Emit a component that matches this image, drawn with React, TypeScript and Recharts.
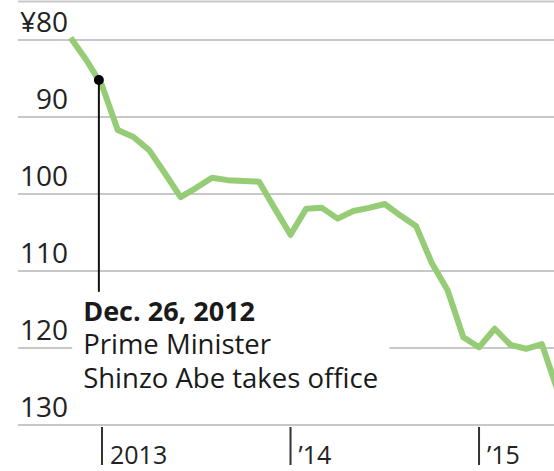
import React from "react";
import {
  LineChart,
  Line,
  XAxis,
  YAxis,
  CartesianGrid,
  ReferenceLine,
  ReferenceDot,
  ReferenceArea,
} from "recharts";

// monthly yen per dollar, Nov 2012 .. Jun 2015
const months = [
  "Nov 2012", "Dec 2012",
  "Jan 2013", "Feb 2013", "Mar 2013", "Apr 2013", "May 2013", "Jun 2013",
  "Jul 2013", "Aug 2013", "Sep 2013", "Oct 2013", "Nov 2013", "Dec 2013",
  "Jan 2014", "Feb 2014", "Mar 2014", "Apr 2014", "May 2014", "Jun 2014",
  "Jul 2014", "Aug 2014", "Sep 2014", "Oct 2014", "Nov 2014", "Dec 2014",
  "Jan 2015", "Feb 2015", "Mar 2015", "Apr 2015", "May 2015", "Jun 2015",
];
const yenPerDollar = [
  79.7, 82.6,
  85.9, 91.7, 92.6, 94.3, 97.3, 100.4, 99.2, 97.9, 98.2, 98.3, 98.4, 101.9,
  105.3, 101.9, 101.8, 103.2, 102.2, 101.8, 101.3, 102.8, 104.2, 109.0, 112.5, 118.6,
  119.9, 117.5, 119.6, 120.1, 119.5, 125.5,
];

const yTicks = [80, 90, 100, 110, 120, 130];
const yLabels = ["¥80", "90", "100", "110", "120", "130"];
const xTicks = [0, 12, 24]; // months since Jan 2013
const xLabels = ["2013", "’14", "’15"];

// Dec. 26, 2012 in months since Jan 2013
const abeDate = -0.2;
const abeRate = 85.2;
const noteLines = ["Dec. 26, 2012", "Prime Minister", "Shinzo Abe takes office"];

const data = months.map((month, i) => ({
  month,
  m: i - 2,
  yen: yenPerDollar[i],
}));

const FONT = "'Open Sans', 'Noto Sans', sans-serif";

const YTick = (props: any) => {
  const { x, y, payload } = props;
  const label = yLabels[yTicks.indexOf(payload.value)];
  return (
    <text
      x={x + 50}
      y={y - 8}
      textAnchor="end"
      fontFamily={FONT}
      fontSize={28}
      fill="#222"
    >
      {label}
    </text>
  );
};

const XTick = (props: any) => {
  const { x, y, payload } = props;
  const label = xLabels[xTicks.indexOf(payload.value)];
  return (
    <g>
      <line x1={x} x2={x} y1={y + 2} y2={y + 40} stroke="#333" strokeWidth={2} />
      <text x={x + 8} y={y + 39} fontFamily={FONT} fontSize={25} fill="#222">
        {label}
      </text>
    </g>
  );
};

const NoteLabel = (props: any) => {
  const { x, y } = props.viewBox;
  return (
    <g fontFamily={FONT} fill="#1a1a1a">
      {noteLines.map((line, i) => (
        <text
          key={line}
          x={x + 11}
          y={y + 25 + i * 33.5}
          fontSize={i === 0 ? 27 : 27.5}
          fontWeight={i === 0 ? 700 : 400}
        >
          {line}
        </text>
      ))}
    </g>
  );
};

export default function App() {
  return (
    <div
      style={{
        position: "absolute",
        left: 0,
        top: 0,
        width: 554,
        height: 471,
        overflow: "hidden",
        background: "#fff",
      }}
    >
      <LineChart
        width={589}
        height={471}
        data={data}
        margin={{ top: 1.5, right: 0, left: 17, bottom: 0 }}
      >
        <CartesianGrid vertical={false} stroke="#c8c8c8" strokeWidth={2} />
        <XAxis
          type="number"
          dataKey="m"
          domain={[-5.348, 31]}
          allowDataOverflow
          ticks={xTicks}
          interval={0}
          axisLine={false}
          tickLine={false}
          tickSize={0}
          tickMargin={0}
          height={46}
          tick={XTick}
        />
        <YAxis
          type="number"
          domain={[75, 130]}
          allowDataOverflow
          reversed
          ticks={yTicks}
          interval={0}
          width={1}
          axisLine={false}
          tickLine={false}
          tickSize={0}
          tickMargin={0}
          tick={YTick}
        />
        <ReferenceArea
          x1={-1.9}
          x2={18.3}
          y1={113.2}
          y2={127.5}
          fill="#fff"
          fillOpacity={1}
          stroke="none"
          label={(p: any) => <NoteLabel {...p} />}
        />
        <Line
          type="linear"
          dataKey="yen"
          stroke="#96cc76"
          strokeWidth={6}
          dot={false}
          strokeLinejoin="round"
          isAnimationActive={false}
        />
        <ReferenceLine
          segment={[
            { x: abeDate, y: abeRate },
            { x: abeDate, y: 112.7 },
          ]}
          stroke="#111"
          strokeWidth={2}
        />
        <ReferenceDot x={abeDate} y={abeRate} r={5} fill="#000" stroke="none" />
      </LineChart>
    </div>
  );
}
